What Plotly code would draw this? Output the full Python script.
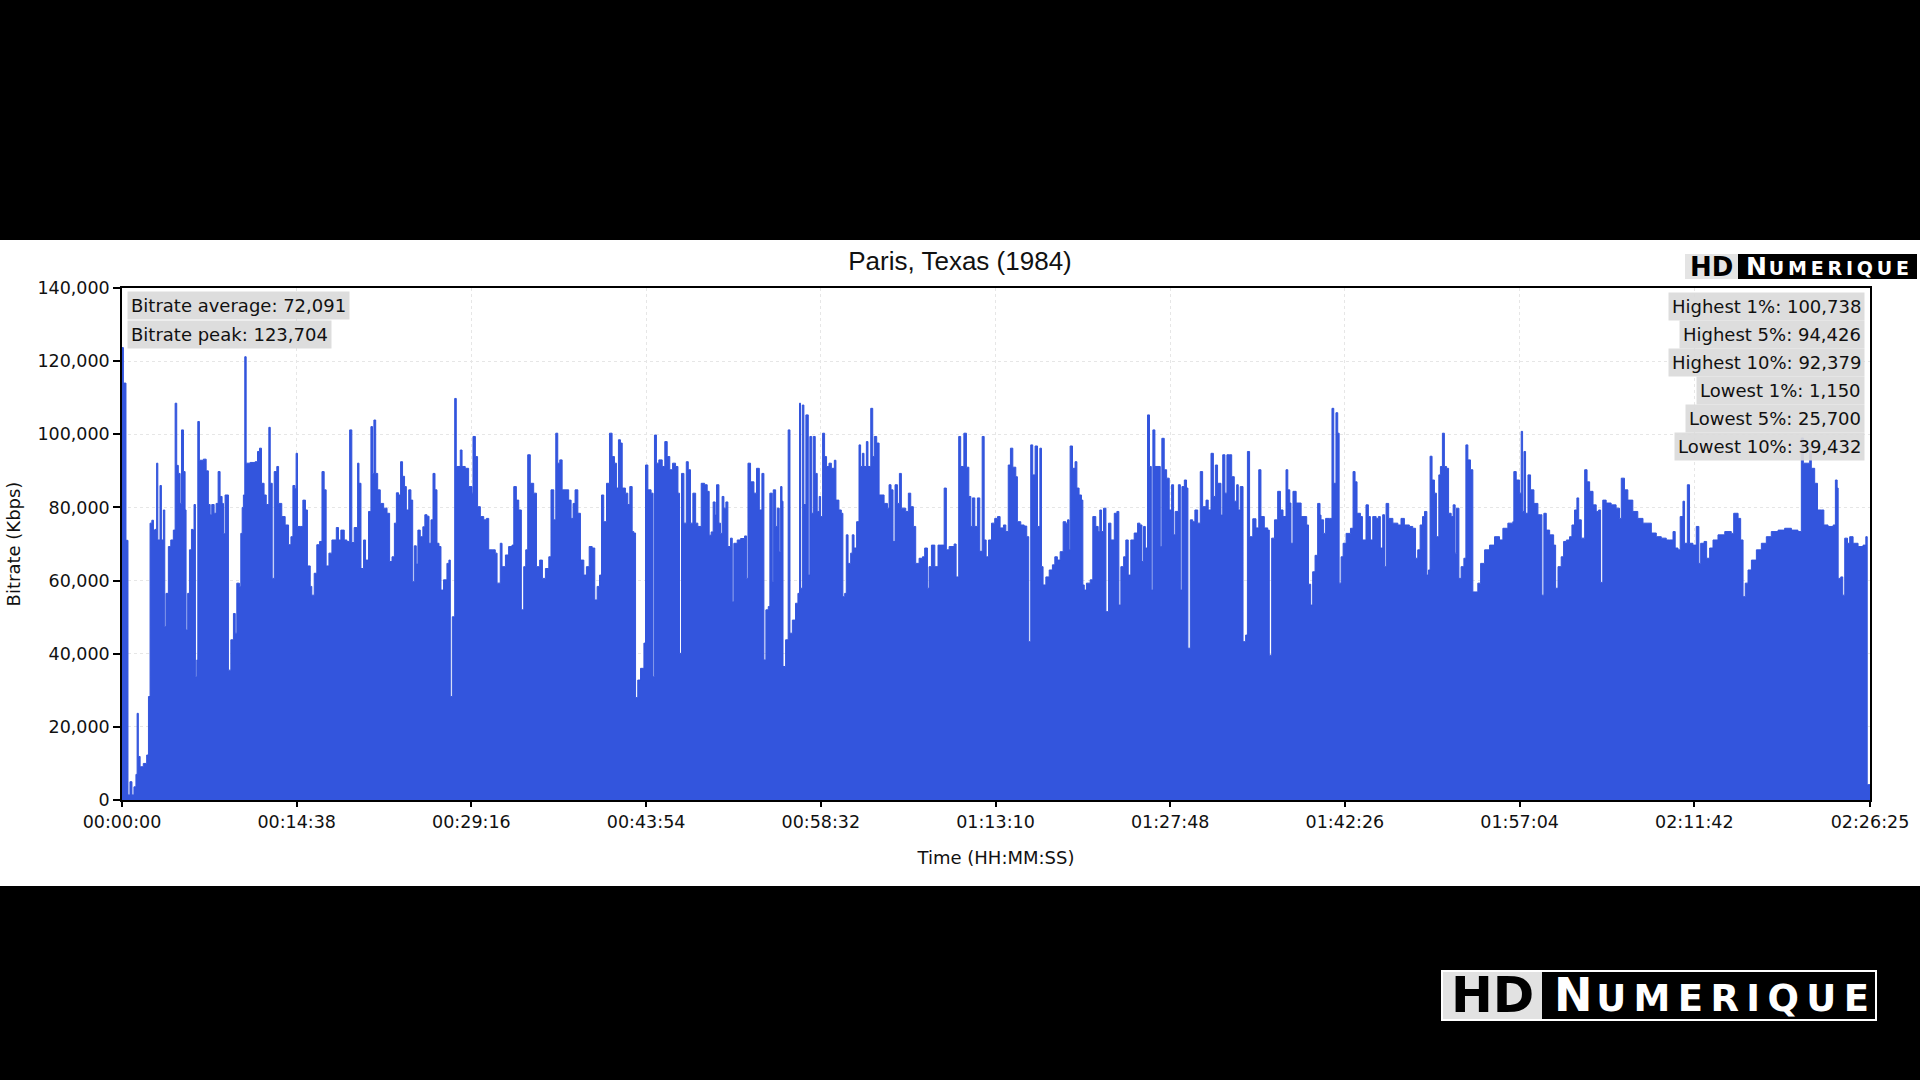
import plotly.graph_objects as go

title = "Paris, Texas (1984)"
x_title = "Time (HH:MM:SS)"
y_title = "Bitrate (Kbps)"
tick_seconds = [0, 878, 1756, 2634, 3512, 4390, 5268, 6146, 7024, 7902, 8785]
tick_labels = ["00:00:00", "00:14:38", "00:29:16", "00:43:54", "00:58:32", "01:13:10",
               "01:27:48", "01:42:26", "01:57:04", "02:11:42", "02:26:25"]
stats_left = ["Bitrate average: 72,091", "Bitrate peak: 123,704"]
stats_right = ["Highest 1%: 100,738", "Highest 5%: 94,426", "Highest 10%: 92,379",
               "Lowest 1%: 1,150", "Lowest 5%: 25,700", "Lowest 10%: 39,432"]

t1 = [0,7,20,30,40,50,60,70,76,82,91,107,124,133,141,150,158,166,174,180,191,198,208,215,221,233,245,258,267,275,283,292,299,309,317,322,330,339,349,356,362,369,376,381,389,409,423,434,443,451,463,473,483,493,503,510,518,535,547,560,569,577,590,597,604,610,617,624,644,669,681,691,701,714,725,738,745,755,765,778,787,803,820,837,849,859,869,875,882,896,909,922,932,946,954,966,979,993,1005,1016,1026,1040,1055,1077,1088,1100,1117,1130,1144,1155,1167,1184,1191,1201,1214,1224,1239,1251,1259,1266,1275,1285,1298,1315,1332,1345,1357,1369,1379,1390,1400,1410,1420,1429,1441,1452,1461,1469,1479,1487]
v1 = [123704,114000,71000,1400,5000,1400,3600,7000,23700,11900,9100,10000,12300,28300,75700,76500,73800,74000,92100,71100,86000,71100,79300,47400,56500,69300,71100,73800,108500,91500,89300,81100,101200,89800,79300,46500,56500,68400,74000,73800,80800,33700,38300,103500,92900,93200,90000,80800,78000,80800,78400,81100,89800,83000,81100,72800,83400,35500,43800,51000,45600,59300,58400,72900,80000,83400,121200,92100,92300,92500,95300,96200,86600,83400,80800,101900,86600,60600,89800,91200,81100,77500,75200,69800,72000,86000,85100,94800,74800,74800,82000,79300,64000,58400,56000,62000,69800,70700,89800,84800,64000,67500,71100,74500,71100,73800,71100,70700,101200,70400,74500,92100,86600,63300,71100,65600,78900,102100,89300,103900,89300,84800,81100,79800,78400,65200,66500,75700,84000,83400,92500,88500,85700,79300,84800,82000,59700,69500,64500,73800]

t2 = [1499,1512,1522,1533,1543,1553,1563,1573,1583,1593,1603,1616,1633,1643,1650,1660,1672,1680,1700,1709,1725,1742,1759,1764,1776,1787,1801,1818,1831,1843,1860,1876,1885,1901,1910,1927,1943,1960,1969,1982,1994,2007,2019,2029,2039,2052,2069,2083,2099,2113,2128,2145,2156,2170,2180,2190,2200,2212,2245,2257,2267,2277,2291,2304,2321,2334,2348,2363,2376,2388,2400,2410,2421,2435,2450,2463,2475,2485,2495,2505,2514,2530,2542,2552,2564,2572,2581,2592,2606,2623,2631,2643,2659,2669,2676,2686,2698,2715,2728,2740,2753,2767,2782,2794,2802,2812,2824,2836,2846,2857,2869,2883,2894,2911,2928,2941,2951,2961,2971,2981,2988,3000]
v2 = [72000,74700,78000,77600,70200,76600,89300,84800,70200,69300,57400,60200,64700,65600,28300,50100,109800,91200,95700,91200,90700,85700,83900,99400,93900,80200,77500,76600,77000,68400,68400,67500,59300,70200,63800,67000,69300,69700,85700,82000,79300,52000,63800,68400,94400,86600,83900,63800,65600,60600,63300,66500,84800,76600,100300,92100,93000,84800,82000,77000,81100,84800,78400,65600,61500,63800,69300,68900,54700,58400,61500,83400,76100,86600,100300,93900,92100,85300,98500,97600,85300,83900,80800,85700,73400,73000,28000,32800,36000,42900,91600,84800,83900,33700,99800,92100,93000,91200,98000,93900,90300,92100,91200,83900,40100,89300,75700,92500,90300,75700,83900,75700,74800,86600,86200,84400,72400,73300,81500,77900,86200,75700]

t3 = [3008,3016,3025,3035,3045,3058,3067,3075,3092,3109,3129,3139,3146,3159,3176,3189,3203,3216,3226,3236,3248,3256,3268,3273,3285,3293,3303,3310,3317,3322,3335,3348,3357,3369,3385,3397,3405,3410,3419,3427,3437,3449,3457,3466,3474,3484,3494,3504,3511,3521,3531,3541,3553,3565,3580,3588,3603,3615,3623,3632,3640,3649,3662,3670,3679,3692,3704,3712,3721,3729,3741,3749,3763,3773,3781,3793,3805,3830,3847,3855,3865,3875,3885,3897,3907,3917,3939,3952,3964,3977,3989,4006,4023,4034,4048,4056,4068,4085,4101,4115,4132,4143,4157,4182,4192,4205,4215,4231,4244,4256,4266,4274,4286,4299,4311,4323,4333,4343,4355,4370,4386,4400,4413,4430,4442,4454,4465,4477,4492,4500]
v3 = [72900,83000,79800,81500,69300,71600,54200,70200,71100,71500,72200,60600,92100,87000,83900,90700,79300,89300,38300,52000,52900,83900,59700,84800,74800,79800,67900,85700,81700,36500,43800,101200,45600,49200,53800,56500,108500,57900,108000,80800,105300,61500,99400,78400,99400,89300,78900,83000,77500,100300,93900,91200,92100,90700,92900,82000,79300,78400,55600,56500,72500,64700,67500,72500,68900,76100,97100,91200,94800,91200,98000,91200,107100,93900,99400,97600,83400,81100,79800,86200,84800,70700,86200,81100,89300,79800,78900,83900,80200,74800,64700,66100,66500,68900,57900,63800,69700,63800,69700,69700,85300,68400,69300,70000,61000,99400,91200,100300,91000,83000,74800,82600,74800,82600,68000,99400,71100,66500,71100,75700,77000,77500,74400,75200,73400,91600,96200,91000,88400,76100]

t4 = [4517,4534,4547,4557,4567,4577,4589,4601,4613,4621,4629,4643,4660,4676,4688,4701,4715,4730,4743,4752,4760,4765,4777,4790,4799,4810,4822,4829,4836,4847,4866,4879,4894,4906,4914,4923,4933,4945,4958,4970,4987,5000,5010,5020,5034,5045,5057,5070,5087,5104,5116,5126,5134,5143,5154,5164,5173,5181,5191,5218,5226,5238,5250,5263,5275,5285,5293,5309,5319,5327,5339,5350,5357,5369,5381,5392,5406,5419,5431,5448,5459,5473,5485,5495,5506,5523,5532,5543,5553,5565,5577,5590,5602,5610,5620,5634,5647,5656,5667,5683,5699,5713,5724,5741,5758,5766,5778,5792,5808,5822,5835,5850,5859,5869,5875,5885,5901,5926,5954,5963,5974,5984,5996,6009,6021]
v4 = [75200,74900,72000,43300,97100,88900,96800,74800,96200,63800,58800,61000,62900,64300,66500,65600,67900,76100,75700,76600,68400,96800,90700,92500,85300,83400,82000,58800,57400,59300,60200,77500,74800,73400,79300,73400,79800,51500,75700,71100,78400,78900,53300,63800,66500,71100,61500,71100,73000,75700,75200,65200,74800,68900,105300,91200,57400,101200,91200,69300,98900,90300,88000,79300,86200,72500,78900,86200,57400,85700,87500,85300,41500,76600,76100,79300,75700,89800,80200,82000,79300,94800,83000,91600,86600,77900,94400,83900,94400,94400,88400,81700,86200,79300,85700,43300,45100,95300,72000,76900,74400,90300,77500,74400,73800,39600,71600,76600,84400,79300,77500,90300,84800,81200,70200,84400,81200,77500,75200,59000,53300,62400,66900,81100,77900]

t5 = [6026,6039,6049,6068,6081,6090,6101,6110,6117,6127,6137,6152,6174,6187,6197,6207,6224,6234,6252,6264,6274,6286,6303,6314,6324,6336,6345,6353,6366,6387,6412,6428,6445,6470,6487,6501,6512,6524,6536,6546,6558,6566,6574,6584,6596,6606,6618,6626,6636,6646,6657,6667,6680,6690,6700,6707,6719,6730,6744,6754,6764,6777,6789,6804,6814,6828,6848,6873,6898,6923,6940,6965,6990,6995,7007,7024,7032,7039,7046,7054,7066,7079,7096,7116,7129,7136,7146,7158,7175,7195,7205,7217,7233,7245,7259,7275,7287,7300,7312,7321,7334,7351,7363,7376,7393,7409,7421,7431]
v5 = [76600,72900,77000,77000,107100,86600,105900,100300,59300,66500,70200,72900,74300,89800,87000,78400,77500,71100,80700,77500,71100,77500,77000,77500,68900,78000,63800,81100,77000,75700,75200,77000,75200,74800,74300,66100,68400,75200,77500,78900,61500,62900,94000,87500,83900,72000,88900,91200,100300,91200,90700,78400,77500,80700,67500,79800,60600,63800,66100,97100,93000,90300,56900,56900,59300,64700,68400,69700,72000,71100,74300,75700,76100,89800,87500,83900,100800,78900,95300,78400,88900,84800,81100,78000,78000,56000,78400,73800,72500,69700,57900,63800,66500,70700,71100,72000,75200,79300,82600,76600,71600,90300,87000,84400,80700,78900,79300,59500]

t6 = [7442,7459,7484,7509,7526,7535,7551,7568,7593,7618,7644,7669,7686,7711,7736,7761,7778,7795,7806,7820,7831,7845,7853,7867,7878,7895,7912,7925,7934,7951,7964,7979,7996,8021,8055,8088,8100,8122,8135,8147,8158,8172,8189,8214,8239,8264,8289,8323,8356,8390,8423,8440,8450,8470,8482,8490,8507,8521,8541,8553,8574,8600,8611,8620,8625,8638,8648,8658,8672,8683,8700,8725,8750,8764,8771,8785]
v6 = [82000,81200,80700,79800,77000,88000,84800,82000,78900,77000,75700,75700,73000,72000,71600,71100,71100,73400,68900,68400,77500,81700,70200,86200,70200,69700,74800,64700,70200,70700,66100,68900,71100,72500,73400,72900,78400,77000,71100,55600,59300,62900,65600,68400,70200,72000,73400,73800,74300,73800,73400,99000,92100,92100,97000,90700,86600,79300,79300,75200,74800,75200,87500,85300,60600,61000,56000,71600,70200,72000,70200,69300,69700,72000,4200,4200]

time_s = t1 + t2 + t3 + t4 + t5 + t6
bitrate = v1 + v2 + v3 + v4 + v5 + v6

W, H = 1920, 1080
def px(x): return x / W
def py(y): return 1 - y / H

fig = go.Figure()
fig.add_trace(go.Scatter(x=time_s, y=bitrate, mode="lines", fill="tozeroy",
                         line=dict(color="#3355dd", width=1, shape="hv"),
                         fillcolor="#3355dd", hoverinfo="skip", showlegend=False))

shapes = [
    dict(type="rect", xref="paper", yref="paper", x0=0, x1=1, y0=py(886), y1=py(240),
         fillcolor="white", line_width=0, layer="below"),
    # top-right logo
    dict(type="rect", xref="paper", yref="paper", x0=px(1685), x1=px(1738), y0=py(279), y1=py(254),
         fillcolor="#e4e4e4", line_width=0),
    dict(type="rect", xref="paper", yref="paper", x0=px(1738), x1=px(1917), y0=py(279), y1=py(254),
         fillcolor="black", line_width=0),
    # bottom-right logo
    dict(type="rect", xref="paper", yref="paper", x0=px(1442), x1=px(1542), y0=py(1020), y1=py(971),
         fillcolor="#e2e2e2", line_width=0),
    dict(type="rect", xref="paper", yref="paper", x0=px(1442), x1=px(1876), y0=py(1020), y1=py(971),
         fillcolor="rgba(0,0,0,0)", line=dict(color="white", width=2)),
]

F = "DejaVu Sans"
LABEL = 18
annotations = []
for text, y in zip(stats_left, [305.5, 334]):
    annotations.append(dict(text=text, xref="paper", yref="paper", x=px(127), y=py(y),
                            xanchor="left", yanchor="middle", showarrow=False,
                            font=dict(family=F, size=LABEL, color="#111"),
                            bgcolor="rgba(218,218,218,0.92)", borderpad=3))
for text, y in zip(stats_right, [306, 334, 362, 390.5, 418, 446]):
    annotations.append(dict(text=text, xref="paper", yref="paper", x=px(1865), y=py(y),
                            xanchor="right", yanchor="middle", showarrow=False,
                            font=dict(family=F, size=LABEL, color="#111"),
                            bgcolor="rgba(218,218,218,0.92)", borderpad=3))

def logo(x_hd, x_word, y, hd_size, big, small, color_hd, color_word):
    annotations.append(dict(text="<b>HD</b>", xref="paper", yref="paper", x=px(x_hd), y=py(y),
                            xanchor="center", yanchor="middle", showarrow=False,
                            font=dict(family=F, size=hd_size, color=color_hd)))
    word = "\u200a\u200a".join("UMERIQUE")
    annotations.append(dict(
        text=f'<b><span style="font-size:{big}px">N</span>\u200a{word}</b>',
        xref="paper", yref="paper", x=px(x_word), y=py(y), xanchor="center", yanchor="middle",
        showarrow=False, font=dict(family=F, size=small, color=color_word)))

logo(1711, 1827, 266.5, 26, 25, 19, "black", "white")
logo(1492, 1711, 995, 50, 46, 37, "black", "white")

fig.update_layout(
    width=W, height=H, autosize=False,
    margin=dict(l=0, r=0, t=0, b=0, pad=0),
    paper_bgcolor="black", plot_bgcolor="rgba(0,0,0,0)",
    font=dict(family=F, size=17, color="#111"),
    title=dict(text=title, x=0.5, xanchor="center", xref="paper",
               y=py(261), yanchor="middle", yref="paper",
               font=dict(family="Liberation Sans", size=26, color="#111")),
    xaxis=dict(domain=[px(122), px(1870)], range=[0, 8785], tickmode="array", automargin=False,
               tickvals=tick_seconds, ticktext=tick_labels, ticks="outside", ticklen=5,
               tickcolor="black", tickwidth=1.5, showline=True, linecolor="black", linewidth=1.5,
               mirror=True, showgrid=True, gridcolor="#e6e6e6", griddash="dot", gridwidth=1,
               zeroline=False, tickfont=dict(family=F, size=17.5, color="#111"), tickangle=0,
               title=dict(text=x_title, font=dict(family=F, size=18, color="#111"), standoff=21)),
    yaxis=dict(domain=[py(800), py(288)], range=[0, 140000], tickmode="array", automargin=False,
               tickvals=[0, 20000, 40000, 60000, 80000, 100000, 120000, 140000],
               tickformat=",", ticks="outside", ticklen=7, tickcolor="black", tickwidth=1.5,
               showline=True, linecolor="black", linewidth=1.5, mirror=True,
               showgrid=True, gridcolor="#e6e6e6", griddash="dot", gridwidth=1, zeroline=False,
               tickfont=dict(family=F, size=17.5, color="#111"),
               title=dict(text=y_title, font=dict(family=F, size=18, color="#111"), standoff=12)),
    shapes=shapes, annotations=annotations,
)

fig.write_html("out.html", config=dict(displayModeBar=False),
               post_script="document.body.style.margin='0';document.body.style.background='#000';")
